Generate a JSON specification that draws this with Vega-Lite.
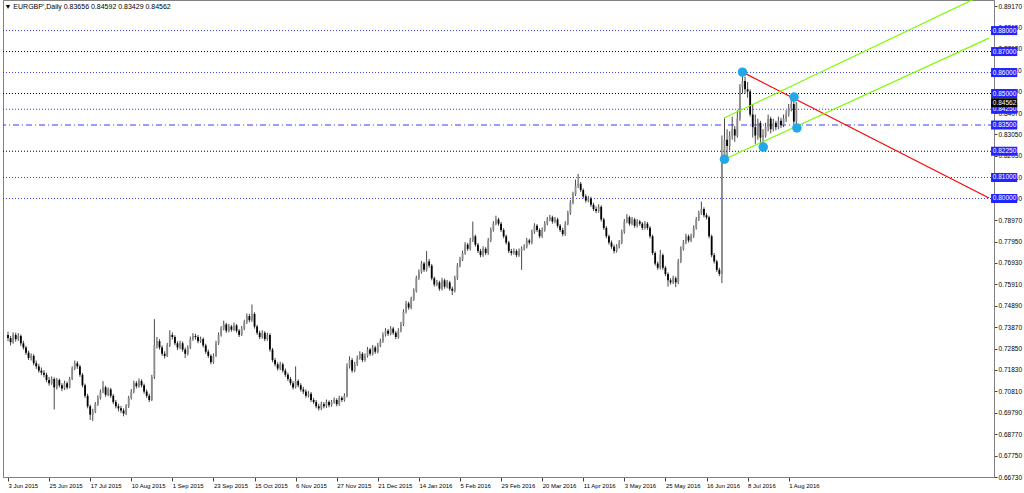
{
"$schema":"https://vega.github.io/schema/vega-lite/v6.json",
"width":991,"height":477,
"autosize":{"type":"none"},
"padding":{"left":3,"top":0,"right":30,"bottom":16},
"background":"white",
"title":{"text":"▼ EURGBP',Daily  0.83656 0.84592 0.83429 0.84562","anchor":"start","offset":-10,"fontSize":7,"font":"Liberation Sans","fontWeight":"normal","color":"#000000","dx":2},
"config":{"view":{"stroke":"#808080"},"text":{"font":"Liberation Sans"},"axis":{"labelOverlap":false,"labelFlush":false,"labelBound":false}},
"datasets":{
"hl":[{"p":0.88,"k":"blue"},{"p":0.87,"k":"black"},{"p":0.86,"k":"blue"},{"p":0.85,"k":"black"},{"p":0.8425,"k":"blue"},{"p":0.835,"k":"main"},{"p":0.8225,"k":"black"},{"p":0.81,"k":"blue"},{"p":0.80,"k":"blue"}],
"bid":[{"p":0.84562}],
"tl":[{"name":"red","i":286.0,"p":0.8602},{"name":"red","i":382,"p":0.8002},{"name":"gu","i":278.7,"p":0.8382},{"name":"gu","i":382,"p":0.8984},{"name":"gl","i":279.0,"p":0.8187},{"name":"gl","i":382,"p":0.8764}],
"dots":[{"i":286.0,"p":0.8602},{"i":279.0,"p":0.8187},{"i":294.1,"p":0.8245},{"i":306.1,"p":0.8483},{"i":307.2,"p":0.8336}],
"candles":[
{"i":0,"o":0.7350,"h":0.7365,"l":0.7320,"c":0.7335},
{"i":1,"o":0.7335,"h":0.7345,"l":0.7300,"c":0.7315},
{"i":2,"o":0.7315,"h":0.7362,"l":0.7308,"c":0.7350},
{"i":3,"o":0.7350,"h":0.7360,"l":0.7318,"c":0.7330},
{"i":4,"o":0.7330,"h":0.7358,"l":0.7322,"c":0.7345},
{"i":5,"o":0.7345,"h":0.7352,"l":0.7298,"c":0.7310},
{"i":6,"o":0.7310,"h":0.7322,"l":0.7280,"c":0.7290},
{"i":7,"o":0.7290,"h":0.7298,"l":0.7255,"c":0.7265},
{"i":8,"o":0.7265,"h":0.7275,"l":0.7230,"c":0.7240},
{"i":9,"o":0.7240,"h":0.7262,"l":0.7228,"c":0.7250},
{"i":10,"o":0.7250,"h":0.7258,"l":0.7205,"c":0.7215},
{"i":11,"o":0.7215,"h":0.7228,"l":0.7188,"c":0.7200},
{"i":12,"o":0.7200,"h":0.7212,"l":0.7170,"c":0.7180},
{"i":13,"o":0.7180,"h":0.7195,"l":0.7158,"c":0.7170},
{"i":14,"o":0.7170,"h":0.7182,"l":0.7148,"c":0.7160},
{"i":15,"o":0.7160,"h":0.7170,"l":0.7125,"c":0.7135},
{"i":16,"o":0.7135,"h":0.7150,"l":0.7108,"c":0.7120},
{"i":17,"o":0.7120,"h":0.7152,"l":0.7112,"c":0.7140},
{"i":18,"o":0.7140,"h":0.7148,"l":0.6995,"c":0.7100},
{"i":19,"o":0.7100,"h":0.7145,"l":0.7090,"c":0.7135},
{"i":20,"o":0.7135,"h":0.7142,"l":0.7100,"c":0.7110},
{"i":21,"o":0.7110,"h":0.7120,"l":0.7082,"c":0.7095},
{"i":22,"o":0.7095,"h":0.7132,"l":0.7088,"c":0.7120},
{"i":23,"o":0.7120,"h":0.7128,"l":0.7090,"c":0.7100},
{"i":24,"o":0.7100,"h":0.7150,"l":0.7095,"c":0.7140},
{"i":25,"o":0.7140,"h":0.7200,"l":0.7135,"c":0.7190},
{"i":26,"o":0.7190,"h":0.7228,"l":0.7182,"c":0.7215},
{"i":27,"o":0.7215,"h":0.7225,"l":0.7188,"c":0.7200},
{"i":28,"o":0.7200,"h":0.7208,"l":0.7150,"c":0.7160},
{"i":29,"o":0.7160,"h":0.7168,"l":0.7100,"c":0.7110},
{"i":30,"o":0.7110,"h":0.7118,"l":0.7050,"c":0.7060},
{"i":31,"o":0.7060,"h":0.7070,"l":0.7000,"c":0.7010},
{"i":32,"o":0.7010,"h":0.7018,"l":0.6945,"c":0.6970},
{"i":33,"o":0.6970,"h":0.6998,"l":0.6940,"c":0.6985},
{"i":34,"o":0.6985,"h":0.7030,"l":0.6978,"c":0.7020},
{"i":35,"o":0.7020,"h":0.7062,"l":0.7012,"c":0.7050},
{"i":36,"o":0.7050,"h":0.7090,"l":0.7042,"c":0.7080},
{"i":37,"o":0.7080,"h":0.7130,"l":0.7072,"c":0.7100},
{"i":38,"o":0.7100,"h":0.7108,"l":0.7055,"c":0.7065},
{"i":39,"o":0.7065,"h":0.7100,"l":0.7058,"c":0.7090},
{"i":40,"o":0.7090,"h":0.7098,"l":0.7050,"c":0.7060},
{"i":41,"o":0.7060,"h":0.7068,"l":0.7020,"c":0.7030},
{"i":42,"o":0.7030,"h":0.7040,"l":0.7000,"c":0.7010},
{"i":43,"o":0.7010,"h":0.7022,"l":0.6985,"c":0.7000},
{"i":44,"o":0.7000,"h":0.7012,"l":0.6978,"c":0.6990},
{"i":45,"o":0.6990,"h":0.7000,"l":0.6962,"c":0.6975},
{"i":46,"o":0.6975,"h":0.7020,"l":0.6968,"c":0.7010},
{"i":47,"o":0.7010,"h":0.7060,"l":0.7002,"c":0.7050},
{"i":48,"o":0.7050,"h":0.7092,"l":0.7042,"c":0.7080},
{"i":49,"o":0.7080,"h":0.7132,"l":0.7072,"c":0.7120},
{"i":50,"o":0.7120,"h":0.7130,"l":0.7095,"c":0.7105},
{"i":51,"o":0.7105,"h":0.7142,"l":0.7098,"c":0.7130},
{"i":52,"o":0.7130,"h":0.7138,"l":0.7100,"c":0.7110},
{"i":53,"o":0.7110,"h":0.7118,"l":0.7070,"c":0.7080},
{"i":54,"o":0.7080,"h":0.7090,"l":0.7050,"c":0.7060},
{"i":55,"o":0.7060,"h":0.7070,"l":0.7030,"c":0.7040},
{"i":56,"o":0.7040,"h":0.7160,"l":0.7035,"c":0.7150},
{"i":57,"o":0.7150,"h":0.7425,"l":0.7140,"c":0.7300},
{"i":58,"o":0.7300,"h":0.7340,"l":0.7285,"c":0.7320},
{"i":59,"o":0.7320,"h":0.7330,"l":0.7280,"c":0.7290},
{"i":60,"o":0.7290,"h":0.7300,"l":0.7250,"c":0.7260},
{"i":61,"o":0.7260,"h":0.7272,"l":0.7238,"c":0.7250},
{"i":62,"o":0.7250,"h":0.7312,"l":0.7245,"c":0.7300},
{"i":63,"o":0.7300,"h":0.7372,"l":0.7292,"c":0.7350},
{"i":64,"o":0.7350,"h":0.7362,"l":0.7328,"c":0.7340},
{"i":65,"o":0.7340,"h":0.7348,"l":0.7300,"c":0.7310},
{"i":66,"o":0.7310,"h":0.7320,"l":0.7278,"c":0.7290},
{"i":67,"o":0.7290,"h":0.7322,"l":0.7282,"c":0.7310},
{"i":68,"o":0.7310,"h":0.7318,"l":0.7270,"c":0.7280},
{"i":69,"o":0.7280,"h":0.7290,"l":0.7240,"c":0.7260},
{"i":70,"o":0.7260,"h":0.7300,"l":0.7252,"c":0.7290},
{"i":71,"o":0.7290,"h":0.7342,"l":0.7282,"c":0.7330},
{"i":72,"o":0.7330,"h":0.7358,"l":0.7322,"c":0.7345},
{"i":73,"o":0.7345,"h":0.7355,"l":0.7328,"c":0.7340},
{"i":74,"o":0.7340,"h":0.7350,"l":0.7310,"c":0.7320},
{"i":75,"o":0.7320,"h":0.7342,"l":0.7312,"c":0.7330},
{"i":76,"o":0.7330,"h":0.7338,"l":0.7290,"c":0.7300},
{"i":77,"o":0.7300,"h":0.7308,"l":0.7260,"c":0.7270},
{"i":78,"o":0.7270,"h":0.7280,"l":0.7240,"c":0.7250},
{"i":79,"o":0.7250,"h":0.7258,"l":0.7210,"c":0.7220},
{"i":80,"o":0.7220,"h":0.7262,"l":0.7212,"c":0.7250},
{"i":81,"o":0.7250,"h":0.7322,"l":0.7245,"c":0.7310},
{"i":82,"o":0.7310,"h":0.7362,"l":0.7302,"c":0.7350},
{"i":83,"o":0.7350,"h":0.7392,"l":0.7342,"c":0.7380},
{"i":84,"o":0.7380,"h":0.7418,"l":0.7372,"c":0.7400},
{"i":85,"o":0.7400,"h":0.7408,"l":0.7360,"c":0.7370},
{"i":86,"o":0.7370,"h":0.7402,"l":0.7362,"c":0.7390},
{"i":87,"o":0.7390,"h":0.7398,"l":0.7365,"c":0.7375},
{"i":88,"o":0.7375,"h":0.7408,"l":0.7368,"c":0.7395},
{"i":89,"o":0.7395,"h":0.7402,"l":0.7360,"c":0.7370},
{"i":90,"o":0.7370,"h":0.7378,"l":0.7340,"c":0.7350},
{"i":91,"o":0.7350,"h":0.7392,"l":0.7345,"c":0.7380},
{"i":92,"o":0.7380,"h":0.7422,"l":0.7372,"c":0.7410},
{"i":93,"o":0.7410,"h":0.7452,"l":0.7402,"c":0.7440},
{"i":94,"o":0.7440,"h":0.7450,"l":0.7410,"c":0.7420},
{"i":95,"o":0.7420,"h":0.7495,"l":0.7412,"c":0.7450},
{"i":96,"o":0.7450,"h":0.7458,"l":0.7380,"c":0.7390},
{"i":97,"o":0.7390,"h":0.7398,"l":0.7350,"c":0.7360},
{"i":98,"o":0.7360,"h":0.7370,"l":0.7330,"c":0.7340},
{"i":99,"o":0.7340,"h":0.7372,"l":0.7332,"c":0.7360},
{"i":100,"o":0.7360,"h":0.7368,"l":0.7320,"c":0.7330},
{"i":101,"o":0.7330,"h":0.7360,"l":0.7322,"c":0.7350},
{"i":102,"o":0.7350,"h":0.7358,"l":0.7270,"c":0.7280},
{"i":103,"o":0.7280,"h":0.7288,"l":0.7220,"c":0.7230},
{"i":104,"o":0.7230,"h":0.7240,"l":0.7200,"c":0.7210},
{"i":105,"o":0.7210,"h":0.7220,"l":0.7180,"c":0.7190},
{"i":106,"o":0.7190,"h":0.7222,"l":0.7182,"c":0.7210},
{"i":107,"o":0.7210,"h":0.7218,"l":0.7170,"c":0.7180},
{"i":108,"o":0.7180,"h":0.7190,"l":0.7150,"c":0.7160},
{"i":109,"o":0.7160,"h":0.7170,"l":0.7130,"c":0.7140},
{"i":110,"o":0.7140,"h":0.7150,"l":0.7110,"c":0.7120},
{"i":111,"o":0.7120,"h":0.7130,"l":0.7090,"c":0.7100},
{"i":112,"o":0.7100,"h":0.7200,"l":0.7095,"c":0.7130},
{"i":113,"o":0.7130,"h":0.7138,"l":0.7100,"c":0.7110},
{"i":114,"o":0.7110,"h":0.7120,"l":0.7080,"c":0.7090},
{"i":115,"o":0.7090,"h":0.7102,"l":0.7068,"c":0.7080},
{"i":116,"o":0.7080,"h":0.7090,"l":0.7050,"c":0.7060},
{"i":117,"o":0.7060,"h":0.7082,"l":0.7052,"c":0.7070},
{"i":118,"o":0.7070,"h":0.7078,"l":0.7030,"c":0.7040},
{"i":119,"o":0.7040,"h":0.7050,"l":0.7020,"c":0.7030},
{"i":120,"o":0.7030,"h":0.7040,"l":0.7000,"c":0.7010},
{"i":121,"o":0.7010,"h":0.7022,"l":0.6990,"c":0.7000},
{"i":122,"o":0.7000,"h":0.7032,"l":0.6992,"c":0.7020},
{"i":123,"o":0.7020,"h":0.7030,"l":0.7000,"c":0.7010},
{"i":124,"o":0.7010,"h":0.7042,"l":0.7002,"c":0.7030},
{"i":125,"o":0.7030,"h":0.7038,"l":0.7005,"c":0.7015},
{"i":126,"o":0.7015,"h":0.7040,"l":0.7008,"c":0.7030},
{"i":127,"o":0.7030,"h":0.7052,"l":0.7022,"c":0.7040},
{"i":128,"o":0.7040,"h":0.7048,"l":0.7010,"c":0.7020},
{"i":129,"o":0.7020,"h":0.7060,"l":0.7012,"c":0.7050},
{"i":130,"o":0.7050,"h":0.7058,"l":0.7030,"c":0.7040},
{"i":131,"o":0.7040,"h":0.7072,"l":0.7032,"c":0.7060},
{"i":132,"o":0.7060,"h":0.7215,"l":0.7052,"c":0.7200},
{"i":133,"o":0.7200,"h":0.7248,"l":0.7190,"c":0.7230},
{"i":134,"o":0.7230,"h":0.7240,"l":0.7170,"c":0.7180},
{"i":135,"o":0.7180,"h":0.7222,"l":0.7172,"c":0.7210},
{"i":136,"o":0.7210,"h":0.7252,"l":0.7202,"c":0.7240},
{"i":137,"o":0.7240,"h":0.7272,"l":0.7232,"c":0.7260},
{"i":138,"o":0.7260,"h":0.7268,"l":0.7220,"c":0.7230},
{"i":139,"o":0.7230,"h":0.7262,"l":0.7222,"c":0.7250},
{"i":140,"o":0.7250,"h":0.7292,"l":0.7242,"c":0.7280},
{"i":141,"o":0.7280,"h":0.7288,"l":0.7250,"c":0.7260},
{"i":142,"o":0.7260,"h":0.7302,"l":0.7252,"c":0.7290},
{"i":143,"o":0.7290,"h":0.7298,"l":0.7260,"c":0.7270},
{"i":144,"o":0.7270,"h":0.7312,"l":0.7262,"c":0.7300},
{"i":145,"o":0.7300,"h":0.7332,"l":0.7292,"c":0.7320},
{"i":146,"o":0.7320,"h":0.7362,"l":0.7312,"c":0.7350},
{"i":147,"o":0.7350,"h":0.7382,"l":0.7342,"c":0.7370},
{"i":148,"o":0.7370,"h":0.7378,"l":0.7345,"c":0.7355},
{"i":149,"o":0.7355,"h":0.7392,"l":0.7348,"c":0.7380},
{"i":150,"o":0.7380,"h":0.7388,"l":0.7350,"c":0.7360},
{"i":151,"o":0.7360,"h":0.7368,"l":0.7330,"c":0.7340},
{"i":152,"o":0.7340,"h":0.7382,"l":0.7332,"c":0.7370},
{"i":153,"o":0.7370,"h":0.7412,"l":0.7362,"c":0.7400},
{"i":154,"o":0.7400,"h":0.7472,"l":0.7392,"c":0.7460},
{"i":155,"o":0.7460,"h":0.7512,"l":0.7452,"c":0.7500},
{"i":156,"o":0.7500,"h":0.7508,"l":0.7470,"c":0.7480},
{"i":157,"o":0.7480,"h":0.7532,"l":0.7472,"c":0.7520},
{"i":158,"o":0.7520,"h":0.7572,"l":0.7512,"c":0.7560},
{"i":159,"o":0.7560,"h":0.7632,"l":0.7552,"c":0.7620},
{"i":160,"o":0.7620,"h":0.7662,"l":0.7612,"c":0.7650},
{"i":161,"o":0.7650,"h":0.7702,"l":0.7642,"c":0.7690},
{"i":162,"o":0.7690,"h":0.7698,"l":0.7650,"c":0.7660},
{"i":163,"o":0.7660,"h":0.7750,"l":0.7652,"c":0.7700},
{"i":164,"o":0.7700,"h":0.7712,"l":0.7670,"c":0.7680},
{"i":165,"o":0.7680,"h":0.7688,"l":0.7610,"c":0.7620},
{"i":166,"o":0.7620,"h":0.7628,"l":0.7580,"c":0.7590},
{"i":167,"o":0.7590,"h":0.7612,"l":0.7582,"c":0.7600},
{"i":168,"o":0.7600,"h":0.7608,"l":0.7560,"c":0.7570},
{"i":169,"o":0.7570,"h":0.7622,"l":0.7562,"c":0.7610},
{"i":170,"o":0.7610,"h":0.7618,"l":0.7570,"c":0.7580},
{"i":171,"o":0.7580,"h":0.7612,"l":0.7572,"c":0.7600},
{"i":172,"o":0.7600,"h":0.7608,"l":0.7560,"c":0.7570},
{"i":173,"o":0.7570,"h":0.7580,"l":0.7540,"c":0.7560},
{"i":174,"o":0.7560,"h":0.7632,"l":0.7552,"c":0.7620},
{"i":175,"o":0.7620,"h":0.7692,"l":0.7612,"c":0.7680},
{"i":176,"o":0.7680,"h":0.7722,"l":0.7672,"c":0.7710},
{"i":177,"o":0.7710,"h":0.7752,"l":0.7702,"c":0.7740},
{"i":178,"o":0.7740,"h":0.7792,"l":0.7732,"c":0.7780},
{"i":179,"o":0.7780,"h":0.7788,"l":0.7750,"c":0.7760},
{"i":180,"o":0.7760,"h":0.7812,"l":0.7752,"c":0.7800},
{"i":181,"o":0.7800,"h":0.7890,"l":0.7792,"c":0.7820},
{"i":182,"o":0.7820,"h":0.7828,"l":0.7770,"c":0.7780},
{"i":183,"o":0.7780,"h":0.7788,"l":0.7740,"c":0.7750},
{"i":184,"o":0.7750,"h":0.7760,"l":0.7720,"c":0.7730},
{"i":185,"o":0.7730,"h":0.7772,"l":0.7722,"c":0.7760},
{"i":186,"o":0.7760,"h":0.7768,"l":0.7730,"c":0.7740},
{"i":187,"o":0.7740,"h":0.7812,"l":0.7732,"c":0.7800},
{"i":188,"o":0.7800,"h":0.7862,"l":0.7792,"c":0.7850},
{"i":189,"o":0.7850,"h":0.7892,"l":0.7842,"c":0.7880},
{"i":190,"o":0.7880,"h":0.7918,"l":0.7872,"c":0.7900},
{"i":191,"o":0.7900,"h":0.7908,"l":0.7870,"c":0.7880},
{"i":192,"o":0.7880,"h":0.7888,"l":0.7840,"c":0.7850},
{"i":193,"o":0.7850,"h":0.7858,"l":0.7810,"c":0.7820},
{"i":194,"o":0.7820,"h":0.7828,"l":0.7780,"c":0.7790},
{"i":195,"o":0.7790,"h":0.7798,"l":0.7740,"c":0.7750},
{"i":196,"o":0.7750,"h":0.7760,"l":0.7728,"c":0.7740},
{"i":197,"o":0.7740,"h":0.7762,"l":0.7732,"c":0.7750},
{"i":198,"o":0.7750,"h":0.7758,"l":0.7720,"c":0.7730},
{"i":199,"o":0.7730,"h":0.7762,"l":0.7722,"c":0.7750},
{"i":200,"o":0.7750,"h":0.7772,"l":0.7660,"c":0.7760},
{"i":201,"o":0.7760,"h":0.7782,"l":0.7752,"c":0.7770},
{"i":202,"o":0.7770,"h":0.7812,"l":0.7762,"c":0.7800},
{"i":203,"o":0.7800,"h":0.7808,"l":0.7780,"c":0.7790},
{"i":204,"o":0.7790,"h":0.7852,"l":0.7782,"c":0.7840},
{"i":205,"o":0.7840,"h":0.7882,"l":0.7832,"c":0.7870},
{"i":206,"o":0.7870,"h":0.7878,"l":0.7840,"c":0.7850},
{"i":207,"o":0.7850,"h":0.7858,"l":0.7810,"c":0.7820},
{"i":208,"o":0.7820,"h":0.7862,"l":0.7812,"c":0.7850},
{"i":209,"o":0.7850,"h":0.7892,"l":0.7842,"c":0.7880},
{"i":210,"o":0.7880,"h":0.7912,"l":0.7872,"c":0.7900},
{"i":211,"o":0.7900,"h":0.7922,"l":0.7892,"c":0.7910},
{"i":212,"o":0.7910,"h":0.7918,"l":0.7880,"c":0.7890},
{"i":213,"o":0.7890,"h":0.7912,"l":0.7882,"c":0.7900},
{"i":214,"o":0.7900,"h":0.7908,"l":0.7860,"c":0.7870},
{"i":215,"o":0.7870,"h":0.7878,"l":0.7840,"c":0.7850},
{"i":216,"o":0.7850,"h":0.7860,"l":0.7820,"c":0.7830},
{"i":217,"o":0.7830,"h":0.7892,"l":0.7822,"c":0.7880},
{"i":218,"o":0.7880,"h":0.7942,"l":0.7872,"c":0.7930},
{"i":219,"o":0.7930,"h":0.7992,"l":0.7922,"c":0.7980},
{"i":220,"o":0.7980,"h":0.8032,"l":0.7972,"c":0.8020},
{"i":221,"o":0.8020,"h":0.8090,"l":0.8012,"c":0.8060},
{"i":222,"o":0.8060,"h":0.8117,"l":0.8050,"c":0.8070},
{"i":223,"o":0.8070,"h":0.8078,"l":0.8030,"c":0.8040},
{"i":224,"o":0.8040,"h":0.8048,"l":0.8000,"c":0.8010},
{"i":225,"o":0.8010,"h":0.8020,"l":0.7980,"c":0.7990},
{"i":226,"o":0.7990,"h":0.8012,"l":0.7982,"c":0.8000},
{"i":227,"o":0.8000,"h":0.8008,"l":0.7960,"c":0.7970},
{"i":228,"o":0.7970,"h":0.7980,"l":0.7940,"c":0.7950},
{"i":229,"o":0.7950,"h":0.7962,"l":0.7930,"c":0.7940},
{"i":230,"o":0.7940,"h":0.7972,"l":0.7932,"c":0.7960},
{"i":231,"o":0.7960,"h":0.7968,"l":0.7890,"c":0.7900},
{"i":232,"o":0.7900,"h":0.7908,"l":0.7850,"c":0.7860},
{"i":233,"o":0.7860,"h":0.7868,"l":0.7810,"c":0.7820},
{"i":234,"o":0.7820,"h":0.7828,"l":0.7780,"c":0.7790},
{"i":235,"o":0.7790,"h":0.7800,"l":0.7760,"c":0.7770},
{"i":236,"o":0.7770,"h":0.7780,"l":0.7738,"c":0.7750},
{"i":237,"o":0.7750,"h":0.7782,"l":0.7742,"c":0.7770},
{"i":238,"o":0.7770,"h":0.7802,"l":0.7762,"c":0.7790},
{"i":239,"o":0.7790,"h":0.7852,"l":0.7782,"c":0.7840},
{"i":240,"o":0.7840,"h":0.7902,"l":0.7832,"c":0.7890},
{"i":241,"o":0.7890,"h":0.7925,"l":0.7882,"c":0.7910},
{"i":242,"o":0.7910,"h":0.7918,"l":0.7870,"c":0.7880},
{"i":243,"o":0.7880,"h":0.7912,"l":0.7872,"c":0.7900},
{"i":244,"o":0.7900,"h":0.7908,"l":0.7860,"c":0.7870},
{"i":245,"o":0.7870,"h":0.7902,"l":0.7862,"c":0.7890},
{"i":246,"o":0.7890,"h":0.7898,"l":0.7870,"c":0.7880},
{"i":247,"o":0.7880,"h":0.7888,"l":0.7850,"c":0.7860},
{"i":248,"o":0.7860,"h":0.7892,"l":0.7852,"c":0.7880},
{"i":249,"o":0.7880,"h":0.7888,"l":0.7850,"c":0.7860},
{"i":250,"o":0.7860,"h":0.7868,"l":0.7810,"c":0.7820},
{"i":251,"o":0.7820,"h":0.7828,"l":0.7730,"c":0.7740},
{"i":252,"o":0.7740,"h":0.7748,"l":0.7680,"c":0.7690},
{"i":253,"o":0.7690,"h":0.7700,"l":0.7660,"c":0.7670},
{"i":254,"o":0.7670,"h":0.7755,"l":0.7662,"c":0.7730},
{"i":255,"o":0.7730,"h":0.7738,"l":0.7660,"c":0.7670},
{"i":256,"o":0.7670,"h":0.7678,"l":0.7630,"c":0.7640},
{"i":257,"o":0.7640,"h":0.7648,"l":0.7580,"c":0.7610},
{"i":258,"o":0.7610,"h":0.7620,"l":0.7590,"c":0.7600},
{"i":259,"o":0.7600,"h":0.7632,"l":0.7592,"c":0.7620},
{"i":260,"o":0.7620,"h":0.7628,"l":0.7578,"c":0.7600},
{"i":261,"o":0.7600,"h":0.7712,"l":0.7592,"c":0.7700},
{"i":262,"o":0.7700,"h":0.7772,"l":0.7692,"c":0.7760},
{"i":263,"o":0.7760,"h":0.7802,"l":0.7752,"c":0.7790},
{"i":264,"o":0.7790,"h":0.7832,"l":0.7782,"c":0.7820},
{"i":265,"o":0.7820,"h":0.7828,"l":0.7790,"c":0.7800},
{"i":266,"o":0.7800,"h":0.7832,"l":0.7792,"c":0.7820},
{"i":267,"o":0.7820,"h":0.7872,"l":0.7812,"c":0.7860},
{"i":268,"o":0.7860,"h":0.7912,"l":0.7852,"c":0.7900},
{"i":269,"o":0.7900,"h":0.7942,"l":0.7892,"c":0.7930},
{"i":270,"o":0.7930,"h":0.7985,"l":0.7922,"c":0.7950},
{"i":271,"o":0.7950,"h":0.7958,"l":0.7910,"c":0.7920},
{"i":272,"o":0.7920,"h":0.7930,"l":0.7900,"c":0.7910},
{"i":273,"o":0.7910,"h":0.7918,"l":0.7810,"c":0.7820},
{"i":274,"o":0.7820,"h":0.7828,"l":0.7720,"c":0.7730},
{"i":275,"o":0.7730,"h":0.7740,"l":0.7690,"c":0.7700},
{"i":276,"o":0.7700,"h":0.7708,"l":0.7650,"c":0.7660},
{"i":277,"o":0.7660,"h":0.7670,"l":0.7630,"c":0.7640},
{"i":278,"o":0.7640,"h":0.8300,"l":0.7597,"c":0.8190},
{"i":279,"o":0.8190,"h":0.8382,"l":0.8186,"c":0.8280},
{"i":280,"o":0.8280,"h":0.8330,"l":0.8200,"c":0.8250},
{"i":281,"o":0.8250,"h":0.8320,"l":0.8230,"c":0.8300},
{"i":282,"o":0.8300,"h":0.8390,"l":0.8280,"c":0.8330},
{"i":283,"o":0.8330,"h":0.8345,"l":0.8270,"c":0.8300},
{"i":284,"o":0.8300,"h":0.8420,"l":0.8290,"c":0.8380},
{"i":285,"o":0.8380,"h":0.8545,"l":0.8370,"c":0.8530},
{"i":286,"o":0.8530,"h":0.8602,"l":0.8500,"c":0.8560},
{"i":287,"o":0.8560,"h":0.8580,"l":0.8500,"c":0.8520},
{"i":288,"o":0.8520,"h":0.8555,"l":0.8480,"c":0.8510},
{"i":289,"o":0.8510,"h":0.8520,"l":0.8390,"c":0.8400},
{"i":290,"o":0.8400,"h":0.8450,"l":0.8290,"c":0.8340},
{"i":291,"o":0.8340,"h":0.8400,"l":0.8260,"c":0.8300},
{"i":292,"o":0.8300,"h":0.8380,"l":0.8280,"c":0.8360},
{"i":293,"o":0.8360,"h":0.8370,"l":0.8260,"c":0.8290},
{"i":294,"o":0.8290,"h":0.8330,"l":0.8245,"c":0.8300},
{"i":295,"o":0.8300,"h":0.8360,"l":0.8290,"c":0.8340},
{"i":296,"o":0.8340,"h":0.8400,"l":0.8320,"c":0.8380},
{"i":297,"o":0.8380,"h":0.8390,"l":0.8310,"c":0.8330},
{"i":298,"o":0.8330,"h":0.8380,"l":0.8320,"c":0.8360},
{"i":299,"o":0.8360,"h":0.8370,"l":0.8325,"c":0.8340},
{"i":300,"o":0.8340,"h":0.8390,"l":0.8330,"c":0.8370},
{"i":301,"o":0.8370,"h":0.8385,"l":0.8335,"c":0.8350},
{"i":302,"o":0.8350,"h":0.8400,"l":0.8340,"c":0.8380},
{"i":303,"o":0.8380,"h":0.8420,"l":0.8365,"c":0.8400},
{"i":304,"o":0.8400,"h":0.8450,"l":0.8390,"c":0.8430},
{"i":305,"o":0.8430,"h":0.8470,"l":0.8415,"c":0.8450},
{"i":306,"o":0.8450,"h":0.8483,"l":0.8355,"c":0.8366},
{"i":307,"o":0.83656,"h":0.84592,"l":0.83429,"c":0.84562}
]},
"layer":[
{"data":{"name":"hl"},"transform":[{"filter":"datum.k=='blue'"}],
 "mark":{"type":"rule","color":"#3b3bff","strokeWidth":1,"strokeDash":[1,2]},
 "encoding":{"y":{"field":"p","type":"quantitative","title":null,
   "scale":{"domain":[0.6673,0.89456],"nice":false,"zero":false},
   "axis":{"orient":"right","tickCount":40,"values":[0.6673,0.6775,0.6877,0.6979,0.7081,0.7183,0.7285,0.7387,0.7489,0.7591,0.7693,0.7795,0.7897,0.7999,0.8101,0.8203,0.8305,0.8407,0.8509,0.8611,0.8713,0.8815,0.8917],
     "format":".5f","labelFont":"Liberation Sans","labelFontSize":6.5,"labelColor":"#000000","tickSize":3,"tickColor":"#444444","labelPadding":1,"domainColor":"#808080","grid":false,"title":null,"labelOverlap":false,"labelFlush":false,"labelBound":false}}}},
{"data":{"name":"hl"},"transform":[{"filter":"datum.k=='black'"}],
 "mark":{"type":"rule","color":"#000000","strokeWidth":1,"strokeDash":[1,2]},
 "encoding":{"y":{"field":"p","type":"quantitative","title":null}}},
{"data":{"name":"hl"},"transform":[{"filter":"datum.k=='main'"}],
 "mark":{"type":"rule","color":"#3b3bff","strokeWidth":1,"strokeDash":[6,3,1,3]},
 "encoding":{"y":{"field":"p","type":"quantitative","title":null}}},
{"data":{"name":"candles"},
 "mark":{"type":"rule","color":"#333333","strokeWidth":0.9},
 "encoding":{
   "x":{"field":"i","type":"quantitative","title":null,"scale":{"domain":[0,382],"nice":false,"zero":false},
     "axis":{"tickCount":40,"values":[0,16,32,48,64,80,96,112,128,144,160,176,192,208,224,240,256,272,288,304],
       "labelExpr":"['3 Jun 2015','25 Jun 2015','17 Jul 2015','10 Aug 2015','1 Sep 2015','23 Sep 2015','15 Oct 2015','6 Nov 2015','27 Nov 2015','21 Dec 2015','14 Jan 2016','5 Feb 2016','29 Feb 2016','20 Mar 2016','11 Apr 2016','3 May 2016','25 May 2016','16 Jun 2016','8 Jul 2016','1 Aug 2016'][datum.value/16]",
       "labelAlign":"left","labelFont":"Liberation Sans","labelFontSize":6,"labelColor":"#000000","tickSize":4,"tickColor":"#444444","labelPadding":1,"domainColor":"#808080","grid":false,"title":null,"labelOverlap":false,"labelFlush":false,"labelBound":false}},
   "y":{"field":"l","type":"quantitative","title":null},
   "y2":{"field":"h"}}},
{"data":{"name":"candles"},
 "mark":{"type":"bar","size":1.8},
 "encoding":{
   "x":{"field":"i","type":"quantitative","title":null},
   "y":{"field":"o","type":"quantitative","title":null},
   "y2":{"field":"c"},
   "color":{"condition":{"test":"datum.c >= datum.o","value":"#8a8a8a"},"value":"#000000"}}},
{"data":{"name":"tl"},"transform":[{"filter":"datum.name=='red'"}],
 "mark":{"type":"line","color":"#ff0000","strokeWidth":1.2,"clip":true},
 "encoding":{"x":{"field":"i","type":"quantitative","title":null},"y":{"field":"p","type":"quantitative","title":null}}},
{"data":{"name":"tl"},"transform":[{"filter":"datum.name=='gu'"}],
 "mark":{"type":"line","color":"#7cfc00","strokeWidth":1.2,"clip":true},
 "encoding":{"x":{"field":"i","type":"quantitative","title":null},"y":{"field":"p","type":"quantitative","title":null}}},
{"data":{"name":"tl"},"transform":[{"filter":"datum.name=='gl'"}],
 "mark":{"type":"line","color":"#7cfc00","strokeWidth":1.2,"clip":true},
 "encoding":{"x":{"field":"i","type":"quantitative","title":null},"y":{"field":"p","type":"quantitative","title":null}}},
{"data":{"name":"dots"},
 "mark":{"type":"point","shape":"circle","filled":true,"color":"#22a8e6","opacity":1,"size":90},
 "encoding":{"x":{"field":"i","type":"quantitative","title":null},"y":{"field":"p","type":"quantitative","title":null}}},
{"data":{"name":"hl"},
 "mark":{"type":"rect","color":"#2323ff","height":9,"clip":false},
 "encoding":{"x":{"datum":382.8},"x2":{"datum":393},"y":{"field":"p","type":"quantitative","title":null}}},
{"data":{"name":"hl"},
 "mark":{"type":"text","color":"#ffffff","fontSize":6.5,"align":"left","baseline":"middle","clip":false,"dx":1},
 "encoding":{"x":{"datum":383.1},"y":{"field":"p","type":"quantitative","title":null},"text":{"field":"p","type":"quantitative","format":".5f"}}},
{"data":{"name":"bid"},
 "mark":{"type":"rect","color":"#000000","height":9,"clip":false},
 "encoding":{"x":{"datum":382.8},"x2":{"datum":393},"y":{"field":"p","type":"quantitative","title":null}}},
{"data":{"name":"bid"},
 "mark":{"type":"text","color":"#ffffff","fontSize":6.5,"align":"left","baseline":"middle","clip":false,"dx":1},
 "encoding":{"x":{"datum":383.1},"y":{"field":"p","type":"quantitative","title":null},"text":{"field":"p","type":"quantitative","format":".5f"}}}
]
}
